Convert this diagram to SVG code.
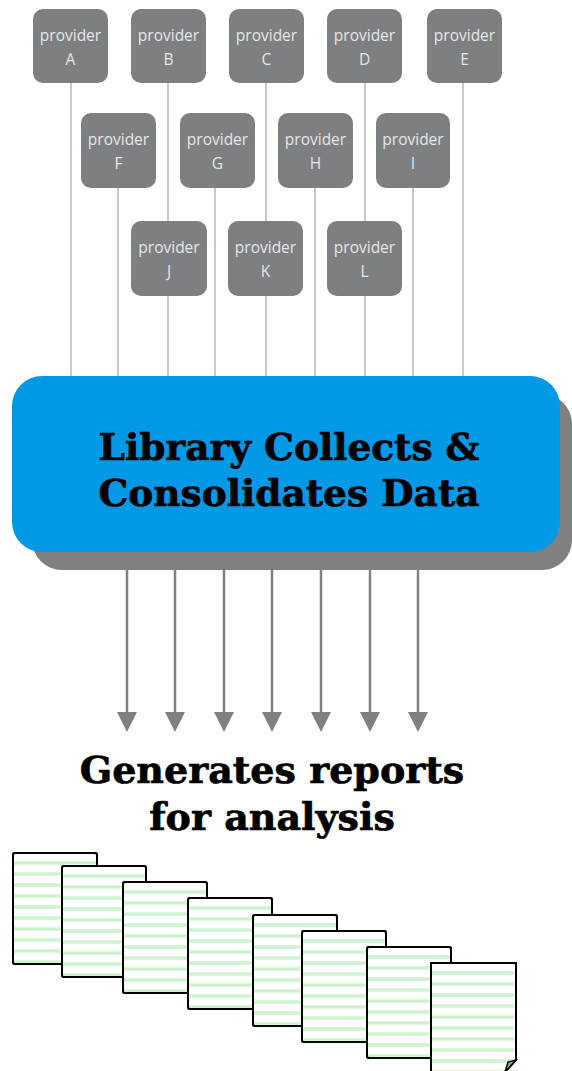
<svg xmlns="http://www.w3.org/2000/svg" xmlns:xlink="http://www.w3.org/1999/xlink" width="572" height="1071" viewBox="0 0 572 1071">
<style>
.pb{fill:#7d7f81}
.pt{fill:#e6e6e6;font-family:"Open Sans",sans-serif;font-size:15.5px;text-anchor:middle}
.vl{stroke:#c6c9cc;stroke-width:2;fill:none}
.ar{stroke:#808080;stroke-width:2.5;fill:none}
.ah{fill:#808080}
.big{font-family:"DejaVu Serif",serif;font-weight:bold;text-anchor:middle;fill:#000;stroke:#000;stroke-width:0.7}
.pg{fill:#fff;stroke:#000;stroke-width:2}
.gl{stroke:#cff5cf;stroke-width:3.5}
</style>
<defs>
<g id="glines">
<line class="gl" x1="1" y1="10" x2="83" y2="10"/><line class="gl" x1="1" y1="21" x2="83" y2="21"/><line class="gl" x1="1" y1="32" x2="83" y2="32"/><line class="gl" x1="1" y1="43" x2="83" y2="43"/><line class="gl" x1="1" y1="54" x2="83" y2="54"/><line class="gl" x1="1" y1="65" x2="83" y2="65"/><line class="gl" x1="1" y1="76" x2="83" y2="76"/><line class="gl" x1="1" y1="87" x2="83" y2="87"/><line class="gl" x1="1" y1="98" x2="83" y2="98"/><line class="gl" x1="1" y1="109" x2="83" y2="109"/>
</g>
<g id="sheet">
<rect class="pg" x="0" y="0" width="84" height="111" rx="2"/>
<use xlink:href="#glines"/>
<rect x="0" y="0" width="84" height="111" rx="2" fill="none" stroke="#000" stroke-width="2"/>
</g>
</defs>
<g id="connectors">
<line class="vl" x1="71" y1="83" x2="71" y2="378"/>
<line class="vl" x1="168" y1="83" x2="168" y2="378"/>
<line class="vl" x1="266" y1="83" x2="266" y2="378"/>
<line class="vl" x1="365" y1="83" x2="365" y2="378"/>
<line class="vl" x1="463" y1="83" x2="463" y2="378"/>
<line class="vl" x1="118" y1="188" x2="118" y2="378"/>
<line class="vl" x1="215" y1="188" x2="215" y2="378"/>
<line class="vl" x1="315" y1="188" x2="315" y2="378"/>
<line class="vl" x1="413" y1="188" x2="413" y2="378"/>
<line class="ar" x1="127" y1="570" x2="127" y2="714"/><polygon class="ah" points="117,712 137,712 127,732"/>
<line class="ar" x1="175" y1="570" x2="175" y2="714"/><polygon class="ah" points="165,712 185,712 175,732"/>
<line class="ar" x1="224" y1="570" x2="224" y2="714"/><polygon class="ah" points="214,712 234,712 224,732"/>
<line class="ar" x1="272" y1="570" x2="272" y2="714"/><polygon class="ah" points="262,712 282,712 272,732"/>
<line class="ar" x1="321" y1="570" x2="321" y2="714"/><polygon class="ah" points="311,712 331,712 321,732"/>
<line class="ar" x1="370" y1="570" x2="370" y2="714"/><polygon class="ah" points="360,712 380,712 370,732"/>
<line class="ar" x1="418" y1="570" x2="418" y2="714"/><polygon class="ah" points="408,712 428,712 418,732"/>
</g>
<g id="provA"><rect class="pb" x="33" y="9" width="75" height="74" rx="10"/><text class="pt" x="70.5" y="41">provider</text><text class="pt" x="70.5" y="65">A</text></g>
<g id="provB"><rect class="pb" x="131" y="9" width="75" height="74" rx="10"/><text class="pt" x="168.5" y="41">provider</text><text class="pt" x="168.5" y="65">B</text></g>
<g id="provC"><rect class="pb" x="229" y="9" width="75" height="74" rx="10"/><text class="pt" x="266.5" y="41">provider</text><text class="pt" x="266.5" y="65">C</text></g>
<g id="provD"><rect class="pb" x="327" y="9" width="75" height="74" rx="10"/><text class="pt" x="364.5" y="41">provider</text><text class="pt" x="364.5" y="65">D</text></g>
<g id="provE"><rect class="pb" x="427" y="9" width="75" height="74" rx="10"/><text class="pt" x="464.5" y="41">provider</text><text class="pt" x="464.5" y="65">E</text></g>
<g id="provF"><rect class="pb" x="81" y="113" width="75" height="75" rx="10"/><text class="pt" x="118.5" y="145">provider</text><text class="pt" x="118.5" y="169">F</text></g>
<g id="provG"><rect class="pb" x="180" y="113" width="75" height="75" rx="10"/><text class="pt" x="217.5" y="145">provider</text><text class="pt" x="217.5" y="169">G</text></g>
<g id="provH"><rect class="pb" x="278" y="113" width="75" height="75" rx="10"/><text class="pt" x="315.5" y="145">provider</text><text class="pt" x="315.5" y="169">H</text></g>
<g id="provI"><rect class="pb" x="376" y="113" width="74" height="75" rx="10"/><text class="pt" x="413" y="145">provider</text><text class="pt" x="413" y="169">I</text></g>
<g id="provJ"><rect class="pb" x="131" y="221" width="76" height="75" rx="10"/><text class="pt" x="169" y="253">provider</text><text class="pt" x="169" y="277">J</text></g>
<g id="provK"><rect class="pb" x="228" y="221" width="75" height="75" rx="10"/><text class="pt" x="265.5" y="253">provider</text><text class="pt" x="265.5" y="277">K</text></g>
<g id="provL"><rect class="pb" x="327" y="221" width="75" height="75" rx="10"/><text class="pt" x="364.5" y="253">provider</text><text class="pt" x="364.5" y="277">L</text></g>
<g id="library">
<rect x="32" y="394" width="540" height="176" rx="30" fill="#808080"/>
<rect x="12" y="376" width="548" height="176" rx="30" fill="#0099e5"/>
<text class="big" x="289" y="460" font-size="37.5">Library Collects &amp;</text>
<text class="big" x="289" y="506" font-size="37.5">Consolidates Data</text>
</g>
<g id="reports-label">
<text class="big" x="272" y="783" font-size="38">Generates reports</text>
<text class="big" x="272" y="830" font-size="38">for analysis</text>
</g>
<g id="page1"><use xlink:href="#sheet" x="13" y="853"/></g>
<g id="page2"><use xlink:href="#sheet" x="62" y="866"/></g>
<g id="page3"><use xlink:href="#sheet" x="123" y="882"/></g>
<g id="page4"><use xlink:href="#sheet" x="188" y="898"/></g>
<g id="page5"><use xlink:href="#sheet" x="253" y="915"/></g>
<g id="page6"><use xlink:href="#sheet" x="302" y="931"/></g>
<g id="page7"><use xlink:href="#sheet" x="367" y="947"/></g>
<g id="page8">
<path d="M431 963 H516 V1060 L505 1072 H431 Z" fill="#fff"/>
<use xlink:href="#glines" x="431" y="963"/>
<path d="M431 1074 V963 H516 V1060 L505 1072" fill="none" stroke="#000" stroke-width="2"/>
<path d="M516 1060 L505 1072 L508 1062 Z" fill="#9aaa9a" stroke="#000" stroke-width="1.5"/>
</g>
</svg>
